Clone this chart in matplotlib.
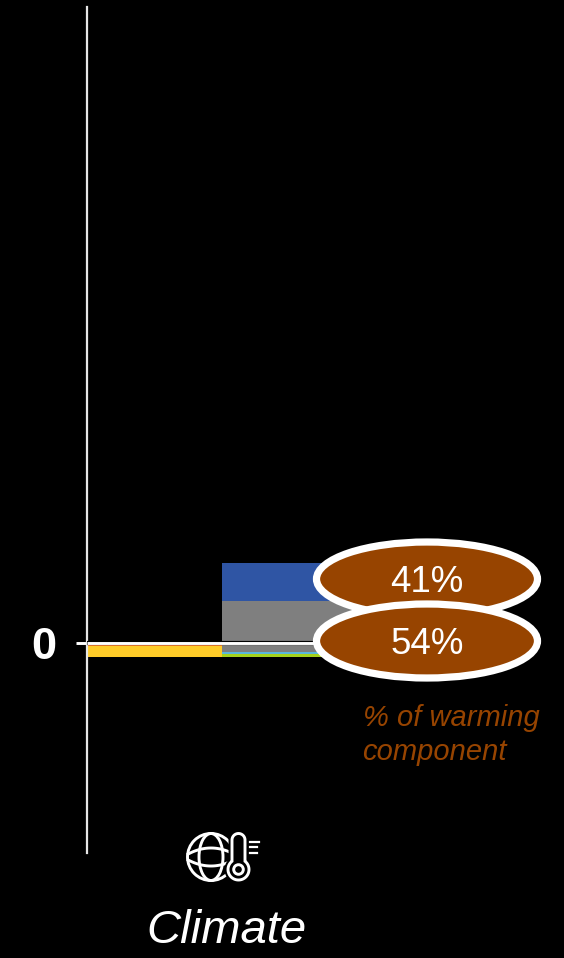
import numpy as np
import matplotlib
matplotlib.use("Agg")
import matplotlib.pyplot as plt
from matplotlib.patches import Ellipse, Circle, Polygon

# Warming contribution by component, in percent of the stacked total
first_bar = [("orange", -3.0, "#ED7D31"), ("yellow", -11.0, "#FFCC29")]
upper_components = [("gray", 44.7, "#7F7F7F"), ("blue", 41.0, "#2F55A4")]
lower_components = [("gray", -9.3, "#7F7F7F"), ("light blue", -2.3, "#5BB8DC"), ("green", -2.4, "#A5D21C")]
percent_labels = ["41%", "54%"]
category = "Climate"
note_lines = ["% of warming", "component"]

BROWN = "#974400"
plt.rcParams["font.family"] = ["Liberation Sans", "DejaVu Sans"]

fig = plt.figure(figsize=(5.64, 9.58), dpi=100, facecolor="black")
ax = fig.add_axes([87 / 564, 105 / 958, 477 / 564, 846 / 958], facecolor="none")
ax.set_xlim(0, 477 / 135)
ax.set_ylim(-223, 677)

# Stacked bars grow away from zero in both directions
for x, series in ((0, first_bar), (1, upper_components), (1, lower_components)):
    bottom = 0.0
    for _, value, colour in series:
        ax.bar(x, value, 1, bottom=bottom, align="edge", color=colour, linewidth=0)
        bottom += value

# Zero line with a thin dark edge
ax.plot([0, 1.75], [0, 0], color="black", lw=3.0, solid_capstyle="butt", zorder=4)
ax.plot([0, 1.75], [0, 0], color="white", lw=2.1, solid_capstyle="butt", zorder=5)

for side in ("top", "right", "bottom"):
    ax.spines[side].set_visible(False)
ax.spines["left"].set_color("#E6E6E6")
ax.spines["left"].set_linewidth(1.6)
ax.set_xticks([])
ax.set_yticks([0])
ax.set_yticklabels(["0"], fontsize=32.5, fontweight="bold", color="white")
ax.tick_params(axis="y", length=8, width=2.1, color="white", pad=14)

# Overlay in figure pixels for callouts and the icon
ov = fig.add_axes([0, 0, 1, 1], facecolor="none")
ov.set_xlim(0, 564)
ov.set_ylim(958, 0)
ov.axis("off")

for label, cy in zip(percent_labels, (579, 641)):
    ov.add_patch(Ellipse((427, cy), 221, 74, facecolor=BROWN, edgecolor="white", lw=5.2))
    ov.text(427, cy + 4, label, color="white", fontsize=26.4, ha="center", va="center")

ov.text(363, 726, note_lines[0], color=BROWN, fontsize=21, style="italic", va="baseline")
ov.text(362, 760, note_lines[1], color=BROWN, fontsize=21, style="italic", va="baseline")
ov.text(226, 943, category, color="white", fontsize=34, style="italic", ha="center", va="baseline")

# Globe with thermometer icon
stroke = 2.1
gx, gy, gr = 211, 857, 23.5
ov.add_patch(Circle((gx, gy), gr, fill=False, ec="white", lw=stroke))
ov.add_patch(Ellipse((gx, gy), 24, 2 * gr, fill=False, ec="white", lw=stroke))
t = np.linspace(-1, 1, 60)
ov.plot(gx + 0.97 * gr * t, gy - 3 - 6 * (1 - t ** 2), color="white", lw=stroke)
ov.plot(gx + 0.97 * gr * t, gy + 3 + 6 * (1 - t ** 2), color="white", lw=stroke)

tx, tw = 238.5, 6.5
top_y, bulb_y, bulb_r = 840, 869.5, 10.5
a = np.arcsin(tw / bulb_r)
top_arc = np.linspace(np.pi, 0, 30)
bulb_arc = np.linspace(a, 2 * np.pi - a, 60)
xs = np.r_[tx + tw * np.cos(top_arc), tx + bulb_r * np.sin(bulb_arc)]
ys = np.r_[top_y - tw * np.sin(top_arc), bulb_y - bulb_r * np.cos(bulb_arc)]
outline = np.c_[xs, ys]
ov.add_patch(Polygon(outline, closed=True, fc="black", ec="black", lw=5.0, zorder=6))
ov.add_patch(Polygon(outline, closed=True, fc="black", ec="white", lw=stroke, zorder=6))
ov.add_patch(Circle((tx, bulb_y), 4.8, fc="black", ec="white", lw=stroke, zorder=7))
for y0, x1 in zip((841.7, 847.3, 853.3), (259, 257, 257)):
    ov.plot([250, x1], [y0, y0], color="white", lw=1.6, zorder=7)

fig.savefig("out.png", dpi=100, facecolor="black")
